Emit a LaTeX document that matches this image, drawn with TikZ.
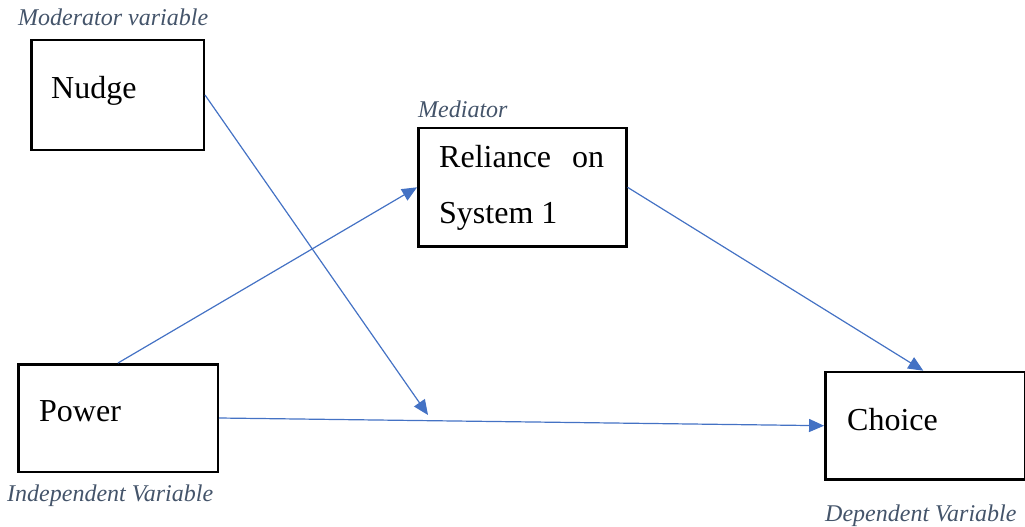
\documentclass[tikz,border=0pt]{standalone}
\usepackage{fontspec}
\setmainfont{Liberation Serif}
\usetikzlibrary{arrows.meta}
\definecolor{linkblue}{HTML}{4472C4}
\definecolor{captiongray}{HTML}{44546A}
\tikzset{
  varbox/.style={draw=black, line width=2.5pt, rectangle, inner sep=0pt},
  boxtext/.style={anchor=base west, inner sep=0pt, font=\fontsize{32}{38}\selectfont},
  caption/.style={anchor=base west, inner sep=0pt, text=captiongray, font=\fontsize{24}{28}\selectfont\itshape},
  link/.style={draw=linkblue, line width=1.2pt, -{Triangle[length=15pt,width=13pt]}}
}
\begin{document}
\begin{tikzpicture}[x=1pt,y=-1pt]
\useasboundingbox (0,0) rectangle (1025,527);

% boxes
\node[varbox, minimum width=172.5pt, minimum height=109.5pt] (nudge) at (117.5,95) {};
\node[varbox, minimum width=208pt, minimum height=118.8pt] (reliance) at (522.3,187.3) {};
\node[varbox, minimum width=199.5pt, minimum height=107.5pt] (power) at (118,418) {};
\node[varbox, minimum width=200pt, minimum height=107.5pt] (choice) at (925.3,425.7) {};

% box texts
\node[boxtext] (nudgetext) at (51,98) {Nudge};
\node[boxtext] (reltext1) at (439,167.7) {\makebox[165pt][s]{Reliance\hfill on}};
\node[boxtext] (reltext2) at (439,223) {System 1};
\node[boxtext] (powertext) at (39,421.7) {Power};
\node[boxtext] (choicetext) at (847,430) {Choice};

% captions
\node[caption] (modcap) at (18,26) {Moderator variable};
\node[caption] (medcap) at (418,117.7) {Mediator};
\node[caption] (indcap) at (7,501.7) {Independent Variable};
\node[caption] (depcap) at (825,521) {Dependent Variable};

% connectors
\coordinate (moderated) at (428,415);
\draw[link] (nudge.east) -- (moderated);
\draw[link] (power.north) -- (reliance.west);
\draw[link] (reliance.east) -- ([xshift=-2pt]choice.north);
\draw[link] (power.east) -- (choice.west);
\end{tikzpicture}
\end{document}
